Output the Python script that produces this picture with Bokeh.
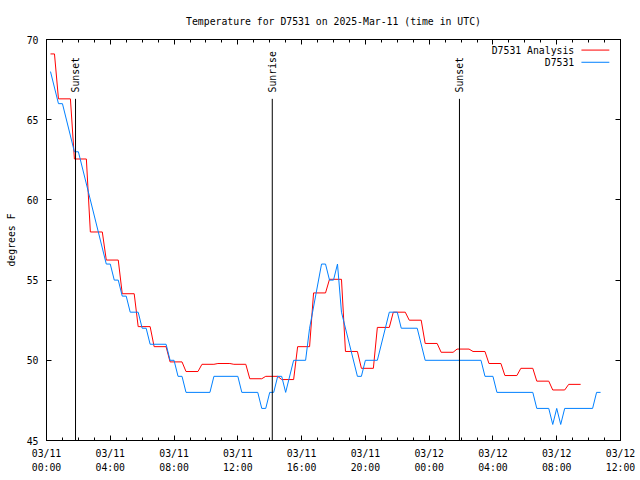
import math
from bokeh.plotting import figure
from bokeh.models import (FixedTicker, LinearAxis, Label, Arrow, Range1d,
                          ColumnDataSource, CustomJSTickFormatter)
from bokeh.core.properties import value
from bokeh.embed import file_html
from bokeh.resources import INLINE

TITLE = "Temperature for D7531 on 2025-Mar-11 (time in UTC)"
Y_LABEL = "degrees F"

# x axis: hours since 03/11 00:00 UTC
tick_hours = [0, 4, 8, 12, 16, 20, 24, 28, 32, 36]
tick_dates = ["03/11", "03/11", "03/11", "03/11", "03/11", "03/11",
              "03/12", "03/12", "03/12", "03/12"]
tick_times = ["00:00", "04:00", "08:00", "12:00", "16:00", "20:00",
              "00:00", "04:00", "08:00", "12:00"]
minor_hours = list(range(0, 37))
y_ticks = [45, 50, 55, 60, 65, 70]

# D7531 Analysis: 15-min samples; each value holds from its start time
analysis_start = [0.25, 0.75, 1.75, 2.75, 3.75, 4.75, 5.75, 6.75, 7.75, 8.75,
                  9.75, 10.75, 11.75, 12.75, 13.75, 14.75, 15.75, 16.75, 17.75,
                  18.75, 19.75, 20.75, 21.75, 22.75, 23.75, 24.75, 25.75, 26.75,
                  27.75, 28.75, 29.75, 30.75, 31.75, 32.75]
analysis_values = [69.1, 66.3, 62.55, 58.0, 56.25, 54.15, 52.1, 50.85, 49.9, 49.3,
                   49.75, 49.8, 49.75, 48.85, 49.0, 48.8, 50.85, 54.2, 55.05,
                   50.55, 49.5, 52.05, 53.0, 52.5, 51.05, 50.5, 50.7, 50.55,
                   49.8, 49.05, 49.5, 48.7, 48.15, 48.5]
analysis_last_sample = 33.5
sample_step = 0.25

# D7531 observations (hours, degrees F)
obs_hours = [0.25, 0.75, 1.0, 1.75, 2.0, 3.75, 4.0, 4.25, 4.5, 4.75,
             5.0, 5.25, 5.75, 6.0, 6.25, 6.5, 7.5, 7.75, 8.0, 8.25,
             8.5, 8.75, 10.25, 10.5, 12.0, 12.25, 13.25, 13.5, 13.75, 14.0,
             14.25, 14.5, 14.75, 15.0, 15.5, 16.25, 16.5, 17.25, 17.5, 17.75,
             18.0, 18.25, 18.5, 19.5, 19.75, 20.0, 20.75, 21.5, 22.0, 22.25,
             23.25, 23.75, 27.25, 27.5, 28.0, 28.25, 30.5, 30.75, 31.5, 31.75,
             32.0, 32.25, 32.5, 34.25, 34.5, 34.75]
obs_temps = [68, 66, 66, 63, 63, 56, 56, 55, 55, 54,
             54, 53, 53, 52, 52, 51, 51, 50, 50, 49,
             49, 48, 48, 49, 49, 48, 48, 47, 47, 48,
             48, 49, 49, 48, 50, 50, 52, 56, 56, 55,
             55, 56, 53, 49, 49, 50, 50, 53, 53, 52,
             52, 50, 50, 49, 49, 48, 48, 47, 47, 46,
             47, 46, 47, 47, 48, 48]

sun_hours = [1.82, 14.16, 25.9]
sun_labels = ["Sunset", "Sunrise", "Sunset"]
sun_line_top = 66.3
sun_label_y = 66.7

RED = "#ff0000"
BLUE = "#0080ff"
FONT = "DejaVu Sans Mono"
FS = "9.8px"

# build held-value path for the analysis series
ax, ay = [], []
for i, (t, v) in enumerate(zip(analysis_start, analysis_values)):
    end = analysis_start[i + 1] - sample_step if i + 1 < len(analysis_start) else analysis_last_sample
    ax += [t, end]
    ay += [v, v]

p = figure(width=640, height=480, output_backend="svg", toolbar_location=None,
           x_range=Range1d(0, 36), y_range=Range1d(45, 70),
           min_border_left=46, min_border_right=20, min_border_top=39,
           min_border_bottom=40, title=TITLE)
p.background_fill_color = "white"
p.border_fill_color = "white"
p.outline_line_color = "black"
p.outline_line_alpha = 1.0
p.xgrid.visible = False
p.ygrid.visible = False

p.title.align = "center"
p.title.text_font = FONT
p.title.text_font_size = FS
p.title.text_font_style = "normal"
p.title.text_color = "black"
p.title.standoff = 26

xt = FixedTicker(ticks=tick_hours, minor_ticks=minor_hours)
yt = FixedTicker(ticks=y_ticks, minor_ticks=[])

xa = p.xaxis[0]
xa.ticker = xt
xa.major_label_overrides = {h: d + "\n" + t for h, d, t in zip(tick_hours, tick_dates, tick_times)}
ya = p.yaxis[0]
ya.ticker = yt
ya.axis_label = Y_LABEL

for a in (xa, ya):
    a.major_tick_in = 5
    a.major_tick_out = 0
    a.minor_tick_in = 3
    a.minor_tick_out = 0
    a.axis_line_color = "black"
    a.major_tick_line_color = "black"
    a.minor_tick_line_color = "black"
    a.major_label_text_font = FONT
    a.major_label_text_font_size = FS
    a.major_label_text_color = "black"
    a.axis_label_text_font = FONT
    a.axis_label_text_font_size = FS
    a.axis_label_text_font_style = "normal"
    a.axis_label_text_color = "black"
xa.major_label_standoff = 7
xa.major_label_text_line_height = 1.35
ya.major_label_standoff = 8
ya.axis_label_standoff = 7

blank = CustomJSTickFormatter(code="return ''")
for loc, tk in (("above", xt), ("right", yt)):
    ax2 = LinearAxis(ticker=tk, formatter=blank, major_label_text_font_size="1px",
                     major_label_standoff=0, major_tick_in=5, major_tick_out=0,
                     minor_tick_in=3, minor_tick_out=0, axis_line_color="black",
                     major_tick_line_color="black", minor_tick_line_color="black")
    p.add_layout(ax2, loc)

p.line(ax, ay, line_color=RED, line_width=1)
p.line(obs_hours, obs_temps, line_color=BLUE, line_width=1)

src = ColumnDataSource(dict(x=sun_hours, lab=sun_labels,
                            y0=[45] * len(sun_hours), y1=[sun_line_top] * len(sun_hours),
                            ly=[sun_label_y] * len(sun_hours)))
p.segment(x0="x", y0="y0", x1="x", y1="y1", source=src, line_color="black", line_width=1)
p.text(x="x", y="ly", text="lab", source=src, angle=math.pi / 2,
       text_align="left", text_baseline="middle", text_font=value(FONT),
       text_font_size=value(FS), text_color="black")

# legend (text right-aligned, sample line to its right)
legend_entries = [("D7531 Analysis", RED, 69.34), ("D7531", BLUE, 68.58)]
for txt, col, ly in legend_entries:
    p.add_layout(Label(x=33.1, y=ly, text=txt, text_align="right", text_baseline="middle",
                       text_font=FONT, text_font_size=FS, text_color="black"))
    p.add_layout(Arrow(end=None, x_start=33.55, x_end=35.3, y_start=ly, y_end=ly,
                       line_color=col, line_width=1))

open("out.html", "w").write(file_html(p, INLINE))
